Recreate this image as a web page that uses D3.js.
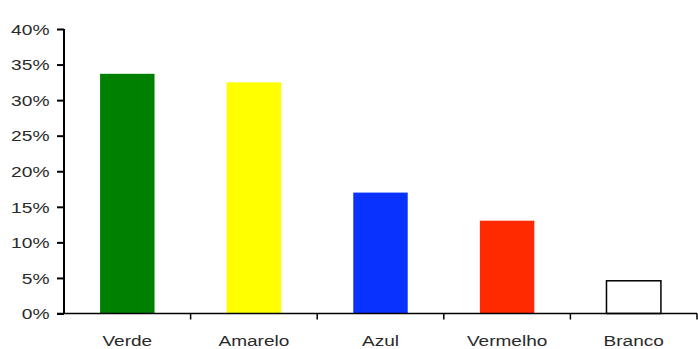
<!DOCTYPE html>
<html><head><meta charset="utf-8">
<script src="https://cdn.jsdelivr.net/npm/d3@7"></script>
<style>body{margin:0;background:#fff}svg{display:block}</style>
</head><body>
<script>
const categories = ["Verde","Amarelo","Azul","Vermelho","Branco"];
const values = [0.337, 0.325, 0.170, 0.1305, 0.046];
const colors = ["#008000","#ffff00","#0a32ff","#ff2a00","#ffffff"];
const yTicks = [0,0.05,0.10,0.15,0.20,0.25,0.30,0.35,0.40];

const W=698,H=349;
const FONT="Liberation Sans, Arial, sans-serif";
const svg=d3.select("body").append("svg").attr("width",W).attr("height",H);
const x0=64,x1=697,yTop=29,yBot=313.5;
const x=d3.scaleBand().domain(categories).range([x0,x1]).paddingInner(0.57).paddingOuter(0.285);
const y=d3.scaleLinear().domain([0,0.40]).range([yBot,yTop]);

svg.selectAll("rect.bar").data(values).enter().append("rect")
  .attr("class","bar")
  .attr("x",(d,i)=>x(categories[i]))
  .attr("width",x.bandwidth())
  .attr("y",d=>y(d))
  .attr("height",d=>yBot-y(d))
  .attr("fill",(d,i)=>colors[i])
  .attr("stroke",(d,i)=>i===4?"#000":"none")
  .attr("stroke-width",1.5);

const yAxis=svg.append("g").attr("transform",`translate(${x0},0)`)
  .call(d3.axisLeft(y).tickValues(yTicks).tickFormat(d3.format(".0%")).tickSize(7).tickPadding(14));
yAxis.select(".domain").attr("stroke","#000").attr("stroke-width",2).attr("d",`M0,${yTop}V${yBot}`);
yAxis.selectAll(".tick line").attr("stroke","#000").attr("stroke-width",2);
yAxis.selectAll(".tick text")
  .attr("font-family",FONT).attr("font-size",15.5).attr("fill","#2a2a2a")
  .attr("x",null).attr("dy",null)
  .attr("transform","translate(-14.5,5.2) scale(1.24,1)");

const band=(x1-x0)/categories.length;
const xAxis=svg.append("g").attr("transform",`translate(0,${yBot})`);
xAxis.append("line").attr("x1",x0-7).attr("x2",x1).attr("y1",0).attr("y2",0).attr("stroke","#000").attr("stroke-width",1.5);
xAxis.selectAll("line.t").data(d3.range(1,categories.length+1)).enter().append("line")
  .attr("class","t").attr("x1",i=>x0+band*i).attr("x2",i=>x0+band*i).attr("y1",0).attr("y2",6)
  .attr("stroke","#000").attr("stroke-width",1.5);
xAxis.selectAll("text").data(categories).enter().append("text")
  .attr("transform",d=>`translate(${x(d)+x.bandwidth()/2},32) scale(1.27,1)`)
  .attr("text-anchor","middle")
  .attr("font-family",FONT).attr("font-size",15).attr("fill","#2a2a2a")
  .text(d=>d);
</script>
</body></html>
